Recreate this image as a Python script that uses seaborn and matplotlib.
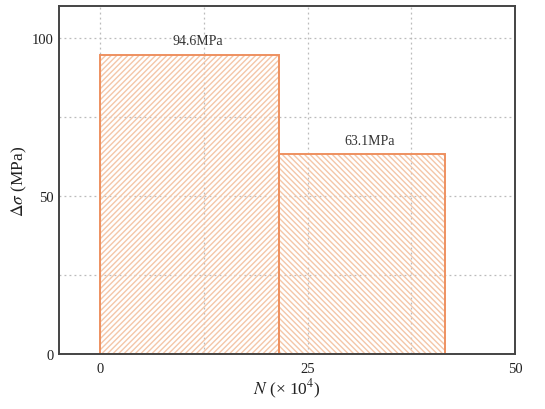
import matplotlib
matplotlib.use("Agg")
import matplotlib.pyplot as plt
import numpy as np
import pandas as pd
import seaborn as sns

# load blocks: cycle range (x 10^4) and stress range
block_start = [0.0, 21.5]
block_end = [21.5, 41.5]
delta_sigma = [94.6, 63.1]
block_labels = ["94.6MPa", "63.1MPa"]
block_hatch = ["//////", "\\\\\\\\\\\\"]

x_ticks = [0, 25, 50]
y_ticks = [0, 50, 100]

sns.set_theme(style="white")
plt.rcParams["font.family"] = ["Liberation Serif", "DejaVu Serif"]
plt.rcParams["mathtext.fontset"] = "stix"
plt.rcParams["hatch.linewidth"] = 1.0

df = pd.DataFrame({
    "mid": [(a + b) / 2 for a, b in zip(block_start, block_end)],
    "ds": delta_sigma,
})
bins = block_start + block_end[-1:]

fig = plt.figure(figsize=(5.45, 4.1), dpi=100)
ax = fig.add_axes([0.108, 0.134, 0.837, 0.849])

# hatched fill (hatch follows edge colour, so use a light peach here)
sns.histplot(data=df, x="mid", weights="ds", bins=bins, element="bars",
             color="#F4C6A8", ax=ax)
for patch, h in zip(ax.patches, block_hatch):
    patch.set_hatch(h)
    patch.set_facecolor("none")
    patch.set_edgecolor("#F4C6A8")
    patch.set_linewidth(0)

# outline on top
sns.histplot(data=df, x="mid", weights="ds", bins=bins, element="bars",
             fill=False, color="#EE9160", linewidth=1.4, ax=ax)

for a, b, v, lab in zip(block_start, block_end, delta_sigma, block_labels):
    ax.text((a + b) / 2 + 1.0, v + 4.5, lab, ha="center", va="center",
            fontsize=10, color="#333333")

ax.set_xlim(-5, 50)
ax.set_ylim(0, 110)
ax.set_xticks(x_ticks)
ax.set_yticks(y_ticks)
ax.set_xticks([12.5, 37.5], minor=True)
ax.set_yticks([25, 75], minor=True)
ax.tick_params(which="both", direction="in", colors="#333333", labelsize=10.5,
               labelcolor="#222222")
ax.tick_params(which="major", length=5, width=1.2)
ax.tick_params(which="minor", length=3, width=1.0)
ax.tick_params(axis="x", pad=6)
ax.grid(True, which="both", linestyle=(0, (1.5, 2.5)), color="#BBBBBB", linewidth=0.9)
ax.set_axisbelow(True)

for s in ax.spines.values():
    s.set_color("#444444")
    s.set_linewidth(1.4)

ax.set_xlabel(r"$N$ (× 10$^4$)", fontsize=12.5, color="#222222", labelpad=1)
ax.set_ylabel(r"$\Delta\sigma$ (MPa)", fontsize=12.5, color="#222222", labelpad=2)

fig.savefig("out.png", dpi=100)
